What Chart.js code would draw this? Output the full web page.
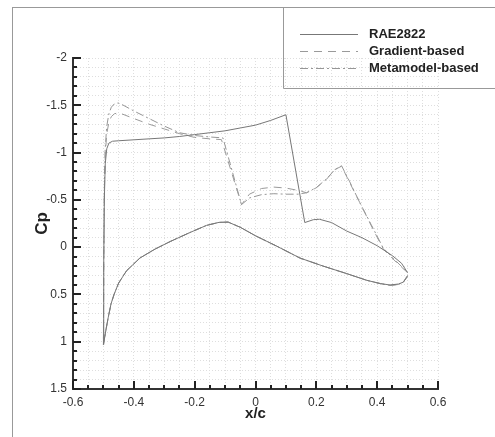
<!DOCTYPE html>
<html>
<head>
<meta charset="utf-8">
<script src="https://cdn.jsdelivr.net/npm/chart.js@4.4.0/dist/chart.umd.min.js"></script>
<style>
  html, body { margin: 0; padding: 0; background: #fff; }
  #wrap { position: relative; width: 495px; height: 437px; overflow: hidden; }
  #frame { position: absolute; left: 12px; top: 7px; width: 600px; height: 600px;
           border-left: 1px solid #999; border-top: 1px solid #999; }
  #cpChart { position: absolute; left: 0; top: 0; }
</style>
</head>
<body>
<div id="wrap">
  <div id="frame"></div>
  <canvas id="cpChart" width="495" height="437"></canvas>
</div>
<script>
// series names
const seriesNames = ['RAE2822', 'Gradient-based', 'Metamodel-based'];

// axis ranges and labelled ticks
const xRange = [-0.6, 0.6];
const cpRange = [-2, 1.5];
const xMajor = [-0.6, -0.4, -0.2, 0, 0.2, 0.4, 0.6];
const yMajor = [-2, -1.5, -1, -0.5, 0, 0.5, 1, 1.5];

// upper surface, RAE2822 baseline
const raeUpperX = [-0.5, -0.499, -0.497, -0.494, -0.489, -0.482, -0.47, -0.45, -0.4, -0.35, -0.3, -0.25, -0.2, -0.15, -0.1, -0.05, 0, 0.05, 0.1, 0.162, 0.19, 0.21, 0.25, 0.3, 0.35, 0.4, 0.45, 0.48, 0.5];
const raeUpperCp = [1.03, 0.2, -0.5, -0.88, -1.04, -1.1, -1.12, -1.125, -1.135, -1.145, -1.155, -1.17, -1.19, -1.21, -1.23, -1.26, -1.29, -1.34, -1.40, -0.26, -0.29, -0.295, -0.26, -0.17, -0.1, -0.015, 0.09, 0.17, 0.27];

// upper surface, gradient-based design
const gradUpperX = [-0.5, -0.499, -0.497, -0.494, -0.489, -0.482, -0.474, -0.464, -0.452, -0.44, -0.4, -0.35, -0.3, -0.25, -0.2, -0.15, -0.112, -0.046, -0.02, 0.02, 0.06, 0.1, 0.14, 0.168, 0.2, 0.233, 0.261, 0.283, 0.31, 0.343, 0.38, 0.42, 0.463, 0.5];
const gradUpperCp = [1.03, 0.2, -0.55, -0.98, -1.2, -1.32, -1.38, -1.41, -1.42, -1.41, -1.36, -1.30, -1.25, -1.2, -1.16, -1.145, -1.137, -0.45, -0.56, -0.62, -0.635, -0.625, -0.6, -0.575, -0.628, -0.716, -0.82, -0.856, -0.68, -0.47, -0.23, 0.02, 0.16, 0.27];

// upper surface, metamodel-based design
const metaUpperX = [-0.5, -0.499, -0.497, -0.494, -0.489, -0.482, -0.474, -0.464, -0.452, -0.44, -0.4, -0.35, -0.3, -0.25, -0.2, -0.15, -0.107, -0.046, -0.02, 0.02, 0.06, 0.1, 0.14, 0.168, 0.2, 0.233, 0.261, 0.283, 0.31, 0.343, 0.38, 0.42, 0.463, 0.5];
const metaUpperCp = [1.03, 0.2, -0.6, -1.05, -1.28, -1.41, -1.48, -1.515, -1.525, -1.51, -1.44, -1.36, -1.28, -1.21, -1.18, -1.165, -1.155, -0.45, -0.52, -0.555, -0.565, -0.56, -0.56, -0.575, -0.63, -0.72, -0.82, -0.86, -0.69, -0.47, -0.24, 0.01, 0.15, 0.27];

// lower surface (the three nearly coincide)
const lowerX = [-0.5, -0.492, -0.484, -0.475, -0.465, -0.45, -0.424, -0.38, -0.33, -0.28, -0.216, -0.161, -0.12, -0.09, -0.05, 0, 0.07, 0.146, 0.222, 0.3, 0.365, 0.41, 0.442, 0.47, 0.486, 0.5];
const raeLowerCp = [1.03, 0.88, 0.74, 0.6, 0.5, 0.38, 0.25, 0.115, 0.02, -0.06, -0.154, -0.23, -0.262, -0.265, -0.21, -0.12, -0.01, 0.115, 0.2, 0.28, 0.35, 0.385, 0.4, 0.39, 0.37, 0.31];
const gradLowerCp = [1.03, 0.88, 0.74, 0.6, 0.5, 0.38, 0.25, 0.115, 0.02, -0.06, -0.154, -0.23, -0.262, -0.265, -0.21, -0.12, -0.01, 0.115, 0.2, 0.28, 0.35, 0.385, 0.405, 0.395, 0.37, 0.3];
const metaLowerCp = [1.03, 0.88, 0.74, 0.6, 0.5, 0.38, 0.25, 0.115, 0.02, -0.06, -0.154, -0.23, -0.262, -0.265, -0.21, -0.12, -0.01, 0.115, 0.2, 0.28, 0.35, 0.385, 0.405, 0.395, 0.37, 0.3];

// trailing edge -> lower surface -> leading edge -> upper surface -> trailing edge
function surfacePoints(xl, cpl, xu, cpu) {
    var pts = [];
    for (var i = xl.length - 1; i >= 0; i--) pts.push({ x: xl[i], y: cpl[i] });
    for (var j = 1; j < xu.length; j++) pts.push({ x: xu[j], y: cpu[j] });
    return pts;
}

function isMajor(v, list) {
    return list.some(function(m) { return Math.abs(m - v) < 1e-6; });
}

function fmt(v) {
    var r = Math.round(v * 10) / 10;
    return r === 0 ? '0' : String(r);
}

// inward tick marks, like the original plot
const inwardTicks = {
    id: 'inwardTicks',
    afterDraw(chart) {
        var ctx = chart.ctx, area = chart.chartArea;
        var xs = chart.scales.x, ys = chart.scales.y;
        ctx.save();
        ctx.strokeStyle = '#222';
        ctx.lineWidth = 2;
        ctx.setLineDash([]);
        ctx.beginPath();
        xs.ticks.forEach(function(t) {
            var px = Math.round(xs.getPixelForValue(t.value));
            var len = isMajor(t.value, xMajor) ? 8 : 4;
            ctx.moveTo(px, area.bottom);
            ctx.lineTo(px, area.bottom - len);
        });
        ys.ticks.forEach(function(t) {
            var py = Math.round(ys.getPixelForValue(t.value));
            var len = isMajor(t.value, yMajor) ? 8 : 4;
            ctx.moveTo(area.left, py);
            ctx.lineTo(area.left + len, py);
        });
        ctx.stroke();
        ctx.restore();
    }
};

// boxed legend in the top right corner
const boxLegend = {
    id: 'boxLegend',
    afterDraw(chart) {
        var ctx = chart.ctx;
        ctx.save();
        ctx.strokeStyle = '#999';
        ctx.lineWidth = 1;
        ctx.beginPath();
        ctx.moveTo(283.5, 7);
        ctx.lineTo(283.5, 88.5);
        ctx.lineTo(495, 88.5);
        ctx.stroke();
        chart.data.datasets.forEach(function(ds, i) {
            var y = 34.5 + i * 17;
            ctx.strokeStyle = ds.borderColor;
            ctx.lineWidth = 1;
            ctx.setLineDash(ds.borderDash || []);
            ctx.beginPath();
            ctx.moveTo(300, y);
            ctx.lineTo(358, y);
            ctx.stroke();
            ctx.setLineDash([]);
            ctx.fillStyle = '#222';
            ctx.font = 'bold 13px "Liberation Sans", Arial, sans-serif';
            ctx.textBaseline = 'middle';
            ctx.fillText(ds.label, 369, y);
        });
        ctx.restore();
    }
};

var ctx = document.getElementById('cpChart').getContext('2d');
var chart = new Chart(ctx, {
    type: 'scatter',
    data: {
        datasets: [{
            label: seriesNames[0],
            data: surfacePoints(lowerX, raeLowerCp, raeUpperX, raeUpperCp),
            borderColor: '#777777',
            borderWidth: 1,
            borderDash: []
        }, {
            label: seriesNames[1],
            data: surfacePoints(lowerX, gradLowerCp, gradUpperX, gradUpperCp),
            borderColor: '#9a9a9a',
            borderWidth: 1,
            borderDash: [8, 6]
        }, {
            label: seriesNames[2],
            data: surfacePoints(lowerX, metaLowerCp, metaUpperX, metaUpperCp),
            borderColor: '#969696',
            borderWidth: 1,
            borderDash: [8, 3, 2, 3]
        }]
    },
    options: {
        responsive: false,
        animation: false,
        showLine: true,
        elements: { point: { radius: 0 }, line: { tension: 0 } },
        layout: { padding: { top: 58, right: 57, left: 0, bottom: 0 } },
        plugins: { legend: { display: false }, tooltip: { enabled: false } },
        scales: {
            x: {
                type: 'linear',
                min: xRange[0],
                max: xRange[1],
                afterFit: function(scale) { scale.height = 48; },
                ticks: {
                    stepSize: 0.05,
                    autoSkip: false,
                    maxRotation: 0,
                    padding: 6,
                    color: '#333',
                    font: { family: '"Liberation Sans", Arial, sans-serif', size: 12 },
                    callback: function(v) { return isMajor(v, xMajor) ? fmt(v) : ''; }
                },
                grid: { color: '#dedede', lineWidth: 1, drawTicks: false },
                border: { display: true, color: '#333', width: 2, dash: [1, 2] },
                title: {
                    display: true,
                    text: 'x/c',
                    color: '#222',
                    padding: { top: 0, bottom: 14 },
                    font: { family: '"Liberation Sans", Arial, sans-serif', size: 15, weight: 'bold' }
                }
            },
            y: {
                type: 'linear',
                reverse: true,
                min: cpRange[0],
                max: cpRange[1],
                afterFit: function(scale) { scale.width = 73; },
                ticks: {
                    stepSize: 0.1,
                    autoSkip: false,
                    padding: 6,
                    color: '#333',
                    font: { family: '"Liberation Sans", Arial, sans-serif', size: 12 },
                    callback: function(v) { return isMajor(v, yMajor) ? fmt(v) : ''; }
                },
                grid: { color: '#dedede', lineWidth: 1, drawTicks: false },
                border: { display: true, color: '#333', width: 2, dash: [1, 2] },
                title: {
                    display: true,
                    text: 'Cp',
                    color: '#222',
                    padding: { top: 32, bottom: 0 },
                    font: { family: '"Liberation Sans", Arial, sans-serif', size: 17, weight: 'bold' }
                }
            }
        }
    },
    plugins: [inwardTicks, boxLegend]
});
</script>
</body>
</html>
